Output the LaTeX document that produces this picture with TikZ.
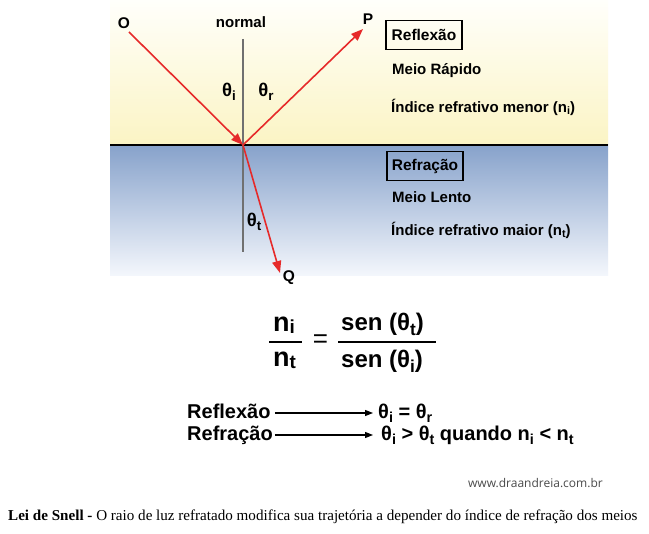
\documentclass[tikz,border=0pt]{standalone}
\usepackage{fontspec}
\usepackage{graphicx}
\setmainfont{Liberation Serif}
\setsansfont{Liberation Sans}
\newfontfamily\wwwfont{Open Sans}
\newcommand\lo[1]{\raisebox{-0.35ex}{\scalebox{0.72}{#1}}}
\newcommand\loo[1]{\raisebox{-0.1ex}{\scalebox{0.7}{#1}}}
\usetikzlibrary{arrows.meta}
\definecolor{raycol}{HTML}{E62A2A}
\definecolor{yellowbg}{HTML}{FBF4C4}
\definecolor{yellowtop}{HTML}{FFFFFB}
\definecolor{bluetop}{HTML}{87A2CB}
\definecolor{bluebot}{HTML}{F4F7FC}
\definecolor{normalcol}{HTML}{707070}
\definecolor{wwwcol}{HTML}{4A4A4A}
\begin{document}
\begin{tikzpicture}[x=1pt,y=-1pt,
  lbl/.style={font=\sffamily\bfseries\fontsize{15}{17}\selectfont, inner sep=0pt},
  pt/.style={font=\sffamily\bfseries\fontsize{15.5}{17}\selectfont, inner sep=0pt},
  ang/.style={font=\sffamily\bfseries\fontsize{18.5}{20}\selectfont, inner sep=0pt},
  boxed/.style={font=\sffamily\bfseries\fontsize{15.5}{17}\selectfont, inner sep=0pt, draw, line width=1.5pt, minimum width=76pt, minimum height=29pt},
  ray/.style={draw=raycol, line width=1.6pt, -{Triangle[length=12pt,width=9pt]}},
  big/.style={font=\sffamily\bfseries\fontsize{27}{29}\selectfont, inner sep=0pt},
  frac/.style={font=\sffamily\bfseries\fontsize{24}{26}\selectfont, inner sep=0pt},
  eqs/.style={font=\sffamily\fontsize{26}{28}\selectfont, inner sep=0pt},
  law/.style={font=\sffamily\bfseries\fontsize{20}{22}\selectfont, inner sep=0pt},
  barrow/.style={line width=1.2pt, -{Triangle[length=8pt,width=6pt]}}
]
\useasboundingbox (0,0) rectangle (649,534);
\fill[white] (0,0) rectangle (649,534);
% media
\shade[top color=yellowtop, bottom color=yellowbg] (110,0) rectangle (608,145);
\shade[top color=bluetop, bottom color=bluebot] (110,145) rectangle (608,276);
\draw[line width=2pt] (110,145) -- (608,145);
% normal
\coordinate (N1) at (243,39);
\coordinate (N2) at (243,252);
\draw[normalcol, line width=2pt] (N1) -- (N2);
% rays
\coordinate (I) at (243,145);
\coordinate (Os) at (129,32);
\coordinate (Pt) at (363,29);
\coordinate (Qt) at (280,273);
\draw[ray] (Os) -- (I);
\draw[ray] (I) -- (Pt);
\draw[ray] (I) -- (Qt);
% labels
\node[pt] (O) at (124,23) {O};
\node[pt] (P) at (368,19) {P};
\node[pt] (Q) at (289,278) {Q};
\node[lbl] (normal) at (241,22) {normal};
\node[ang] (ti) at (229,92) {θ\lo{i}};
\node[ang] (tr) at (266,92) {θ\lo{r}};
\node[ang] (tt) at (254,222) {θ\lo{t}};
% right texts
\node[boxed] (reflbox) at (424,35) {Reflexão};
\node[lbl, anchor=west] (rapido) at (392,71) {Meio Rápido};
\node[lbl, anchor=west] (menor) at (391,107) {Índice refrativo menor (n\lo{i})};
\node[boxed] (refrbox) at (425,166) {Refração};
\node[lbl, anchor=west] (lento) at (392,197) {Meio Lento};
\node[lbl, anchor=west] (maior) at (391,230) {Índice refrativo maior (n\lo{t})};
% formula
\node[big, anchor=base west] (ni) at (273,332) {n\loo{i}};
\node[big, anchor=base west] (nt) at (273,367) {n\loo{t}};
\draw[line width=1.5pt] (269,342) -- (302,342);
\node[eqs] (eq) at (320.5,341.5) {=};
\node[frac, anchor=base west] (num) at (341,331) {sen (θ\lo{t})};
\node[frac, anchor=base west] (den) at (341,368) {sen (θ\lo{i})};
\draw[line width=1.5pt] (338,342) -- (436,342);
% laws
\node[law, anchor=base west] (r1) at (187,419) {Reflexão};
\node[law, anchor=base west] (r1eq) at (378,419) {θ\lo{i} = θ\lo{r}};
\node[law, anchor=base west] (r2) at (187,441) {Refração};
\node[law, anchor=base west] (r2eq) at (381,441) {θ\lo{i} > θ\lo{t} quando n\lo{i} < n\lo{t}};
\draw[barrow] ([xshift=4pt]r1.east |- 0,413) -- ([xshift=-5pt]r1eq.west |- 0,413);
\draw[barrow] ([xshift=2pt]r2.east |- 0,435) -- ([xshift=-8pt]r2eq.west |- 0,435);
% footer
\node[font=\wwwfont\fontsize{12}{14}\selectfont, text=wwwcol, anchor=east, inner sep=0pt] (www) at (603,483) {www.draandreia.com.br};
\node[font=\fontsize{15.1}{17}\selectfont, anchor=west, inner sep=0pt] (cap) at (8,517) {\textbf{Lei de Snell -} O raio de luz refratado modifica sua trajetória a depender do índice de refração dos meios};
\end{tikzpicture}
\end{document}
